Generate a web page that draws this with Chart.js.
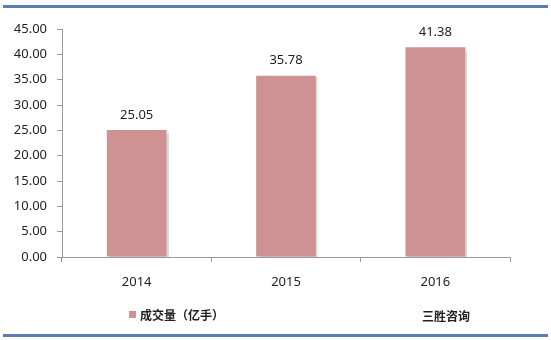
<!DOCTYPE html>
<html lang="zh">
<head>
  <meta charset="UTF-8">
  <title>成交量（亿手）</title>
  <script src="https://cdn.jsdelivr.net/npm/chart.js"></script>
  <style>
    body { margin: 0; background: #fff; }
    #wrap { width: 551px; height: 340px; }
  </style>
</head>
<body>
  <div id="wrap"><canvas id="myChart" width="551" height="340"></canvas></div>

  <script>
    // data
    const years = ['2014', '2015', '2016'];
    const volume = [25.05, 35.78, 41.38];
    const seriesName = '成交量（亿手）';
    const sourceText = '三胜咨询';

    const FONT = "'Noto Sans', 'Noto Sans CJK SC', sans-serif";
    const BAR = '#cf9292';

    // frame lines, labels over bars, legend and source
    const extras = {
      id: 'extras',
      beforeDatasetsDraw(chart) {
        const ctx = chart.ctx;
        ctx.save();
        ctx.shadowColor = 'rgba(0,0,0,0.15)';
        ctx.shadowOffsetX = 2;
        ctx.shadowOffsetY = 1;
        ctx.shadowBlur = 1;
      },
      afterDatasetsDraw(chart) {
        const ctx = chart.ctx;
        ctx.restore();
        ctx.save();
        ctx.font = '13px ' + FONT;
        ctx.fillStyle = '#222';
        ctx.textAlign = 'center';
        ctx.textBaseline = 'middle';
        chart.getDatasetMeta(0).data.forEach((bar, i) => {
          ctx.fillText(volume[i].toFixed(2), bar.x, bar.y - 15);
        });
        ctx.restore();
      },
      afterDraw(chart) {
        const ctx = chart.ctx;
        ctx.save();
        ctx.fillStyle = '#5a7db4';
        ctx.fillRect(3, 5, 545, 3);
        ctx.fillRect(3, 334, 545, 3);

        // legend
        ctx.fillStyle = BAR;
        ctx.fillRect(129, 311, 7, 7);
        ctx.fillStyle = '#222';
        ctx.font = 'bold 12px ' + FONT;
        ctx.textBaseline = 'middle';
        ctx.textAlign = 'left';
        ctx.fillText(chart.data.datasets[0].label, 140, 317);
        ctx.fillText(sourceText, 422, 318);
        ctx.restore();
      }
    };

    new Chart(document.getElementById('myChart'), {
      type: 'bar',
      data: {
        labels: years,
        datasets: [{
          label: seriesName,
          data: volume,
          backgroundColor: BAR,
          barPercentage: 0.4,
          categoryPercentage: 1
        }]
      },
      options: {
        responsive: false,
        animation: false,
        layout: { padding: { top: 29, right: 41, left: 0, bottom: 0 } },
        plugins: { legend: { display: false }, tooltip: { enabled: false } },
        scales: {
          x: {
            offset: true,
            afterFit(s) { s.height = 83; },
            grid: { offset: true, drawOnChartArea: false, tickLength: 5, color: '#999' },
            border: { color: '#999' },
            ticks: { font: { family: FONT, size: 13 }, color: '#222', padding: 12 }
          },
          y: {
            min: 0,
            max: 45,
            afterFit(s) { s.width = 62; },
            grid: { drawOnChartArea: false, tickLength: 5, color: '#999' },
            border: { color: '#999' },
            ticks: {
              stepSize: 5,
              font: { family: FONT, size: 13 },
              color: '#222',
              padding: 10,
              callback: v => v.toFixed(2)
            }
          }
        }
      },
      plugins: [extras]
    });
  </script>
</body>
</html>
